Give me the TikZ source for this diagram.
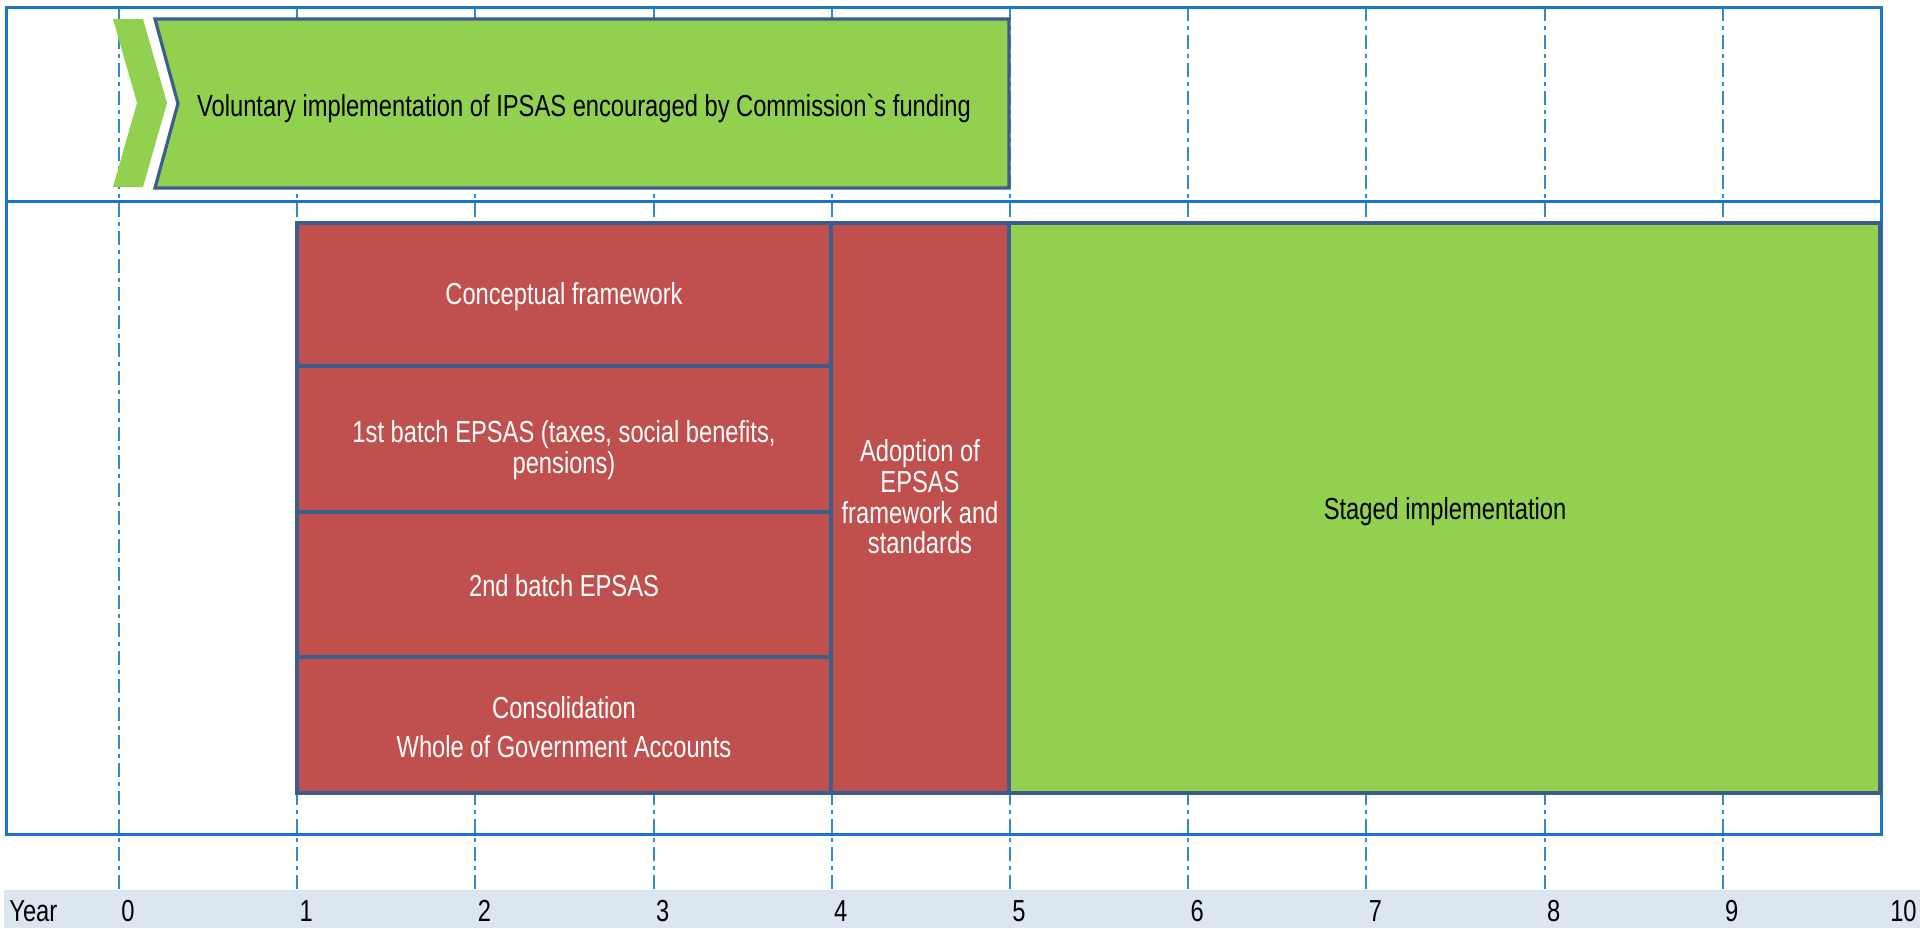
\documentclass[tikz,border=0pt]{standalone}
\usepackage{fontspec}
\setmainfont{Liberation Sans}[FakeStretch=0.78]
\newfontfamily\gravefont{Liberation Sans}[FakeStretch=0.78, Ligatures=TeXOff]
\definecolor{frameblue}{HTML}{1B75C9}
\definecolor{gridblue}{HTML}{2F8AD6}
\definecolor{boxborder}{HTML}{3C5E8C}
\definecolor{redfill}{HTML}{C0504D}
\definecolor{greenfill}{HTML}{92D050}
\definecolor{bandfill}{HTML}{DCE6F1}
\tikzset{
  gridline/.style={draw=gridblue, line width=1pt, dash pattern=on 7pt off 2.5pt on 2pt off 2.5pt},
  framestyle/.style={draw=frameblue, line width=1.5pt},
  redbox/.style={fill=redfill, draw=boxborder, line width=1.6pt},
  greenbox/.style={fill=greenfill, draw=boxborder, line width=1.6pt},
  wtext/.style={text=white, align=center, inner sep=0pt},
  btext/.style={text=black, align=center, inner sep=0pt},
  yearlabel/.style={text=black, inner sep=0pt, anchor=base east},
}
\begin{document}
\begin{tikzpicture}[x=0.5pt,y=-0.5pt, font=\fontsize{15.2}{15.3}\selectfont]
\useasboundingbox (0,0) rectangle (1920,928);
% year band
\fill[bandfill] (4,890) rectangle (1920,928);
% grid lines
\foreach \i in {0,...,9} {
  \draw[gridline] ({119+178.2*\i},7) -- ({119+178.2*\i},890);
}
% frame
\draw[framestyle] (6,7) rectangle (1881,834);
\draw[framestyle] (6,201) -- (1881,201);
% chevrons
\fill[greenfill] (113,19) -- (143,19) -- (167,103) -- (143,187) -- (113,187) -- (137,103) -- cycle;
\draw[greenbox] (155,19) -- (1009,19) -- (1009,188) -- (155,188) -- (178,103.5) -- cycle;
\node[btext] (vol) at (584,108) {Voluntary implementation of IPSAS encouraged by Commission{\gravefont`}s funding};
% red boxes
\draw[redbox] (297,223) rectangle (831,366);
\draw[redbox] (297,366) rectangle (831,512);
\draw[redbox] (297,512) rectangle (831,657);
\draw[redbox] (297,657) rectangle (831,793);
\draw[redbox] (831,223) rectangle (1009,793);
\draw[greenbox] (1009,223) rectangle (1880,793);
\node[wtext] (cf) at (564,297) {Conceptual framework};
\node[wtext] (b1) at (564,450) {1st batch EPSAS (taxes, social benefits,\\pensions)};
\node[wtext] (b2) at (564,586) {2nd batch EPSAS};
\node[wtext] (cons) at (564,727) {Consolidation\\[4pt]Whole of Government Accounts};
\node[wtext] (adopt) at (920,497) {Adoption of\\EPSAS\\framework and\\standards};
\node[btext] (staged) at (1445,512) {Staged implementation};
% year labels
\node[text=black, inner sep=0pt, anchor=base west] (yr) at (9,921) {Year};
\foreach \i in {0,...,10} {
  \node[yearlabel] (y\i) at ({119+178.2*\i+16},921) {\i};
}
\end{tikzpicture}
\end{document}
